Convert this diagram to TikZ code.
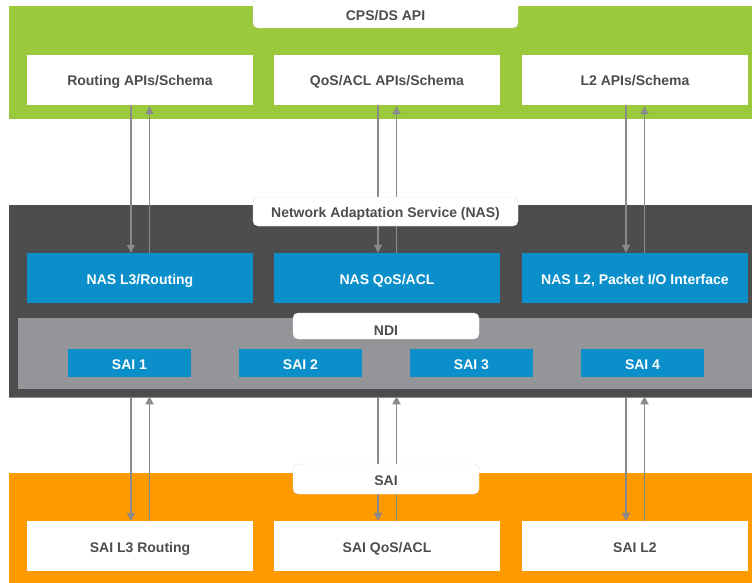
\documentclass[tikz,border=0pt]{standalone}
\usepackage{fontspec}
\setmainfont{Liberation Sans}
\usetikzlibrary{arrows.meta}
\definecolor{cpsgreen}{HTML}{9ACA3C}
\definecolor{nasdark}{HTML}{4D4D4D}
\definecolor{ndigray}{HTML}{939598}
\definecolor{nasblue}{HTML}{0A8FCB}
\definecolor{saiorange}{HTML}{FF9A00}
\definecolor{txtgray}{HTML}{4D4D4D}
\definecolor{arrgray}{HTML}{8A8A8A}
\tikzset{
  band/.style={draw=none, anchor=north west, inner sep=0pt},
  lbl/.style={font=\fontsize{14}{16}\selectfont\bfseries, text height=12pt, text depth=0pt},
  wbox/.style={lbl, fill=white, draw=none, minimum width=226pt, minimum height=50pt,
    inner sep=0pt, text=txtgray},
  bbox/.style={lbl, fill=nasblue, draw=none, minimum width=226pt, minimum height=50pt,
    inner sep=0pt, text=white},
  saibox/.style={bbox, minimum width=123pt, minimum height=28pt},
  tab/.style={lbl, fill=white, draw=black!12, line width=0.4pt, rounded corners=5pt,
    inner sep=0pt, text=txtgray},
  tabtext/.style={lbl, text=txtgray, inner sep=0pt},
  link/.style={draw=arrgray, line width=1.8pt,
    -{Triangle[length=8pt,width=8pt]}},
}
\begin{document}
\begin{tikzpicture}[x=1pt,y=-1pt]
\useasboundingbox (0,0) rectangle (752,583);
\clip (0,0) rectangle (752,583);

% layer bands
\fill[cpsgreen] (9,6) rectangle (760,119);
\node[band, fill=nasdark, minimum width=751pt, minimum height=193pt] (nas) at (9,205) {};
\fill[ndigray] (18,318) rectangle (760,389);
\draw[black!45, line width=0.8pt] (9,397.5) -- (760,397.5);
\fill[saiorange] (9,473) rectangle (760,590);

% CPS/DS API boxes
\node[wbox] (rapi) at (140,80) {Routing APIs/Schema};
\node[wbox] (qapi) at (387,80) {QoS/ACL APIs/Schema};
\node[wbox] (lapi) at (635,80) {L2 APIs/Schema};

% NAS boxes
\node[bbox] (nr) at (140,278) {NAS L3/Routing};
\node[bbox] (nq) at (387,278) {NAS QoS/ACL};
\node[bbox] (nl) at (635,278) {NAS L2, Packet I/O Interface};

% SAI instances inside NDI
\node[saibox] (s1) at (129.5,363) {SAI 1};
\node[saibox] (s2) at (300.5,363) {SAI 2};
\node[saibox] (s3) at (471.5,363) {SAI 3};
\node[saibox] (s4) at (642.5,363) {SAI 4};

% SAI boxes
\node[wbox] (sr) at (140,546) {SAI L3 Routing};
\node[wbox] (sq) at (387,546) {SAI QoS/ACL};
\node[wbox] (sl) at (635,546) {SAI L2};

% connectors API <-> NAS
\foreach \a/\b in {rapi/nr, qapi/nq, lapi/nl}{
  \draw[link] ([xshift=-9pt]\a.south) -- ([xshift=-9pt]\b.north);
  \draw[link] ([xshift=9.5pt]\b.north) -- ([xshift=9.5pt,yshift=-1pt]\a.south);
}
% connectors NAS layer <-> SAI
\foreach \b in {sr, sq, sl}{
  \draw[link] ([xshift=-9pt]\b.north |- nas.south) -- ([xshift=-9pt]\b.north);
  \draw[link] ([xshift=9.5pt]\b.north) -- ([xshift=9.5pt,yshift=2pt]\b.north |- nas.south);
}

% layer title tabs
\node[tab, minimum width=265pt, minimum height=40pt] (tcps) at (385.5,8) {};
\node[tabtext] (tcpst) at (385.5,15) {CPS/DS API};
\node[tab, minimum width=265pt, minimum height=29pt] (tnas) at (385.5,211.5) {Network Adaptation Service (NAS)};
\node[tab, minimum width=186pt, minimum height=26pt] (tndi) at (386,326) {};
\fill[white] (293,318) rectangle (479,328);
\node[tabtext] (tndit) at (386,329) {NDI};
\node[tab, minimum width=186pt, minimum height=30pt] (tsai) at (386,479) {SAI};
\end{tikzpicture}
\end{document}
